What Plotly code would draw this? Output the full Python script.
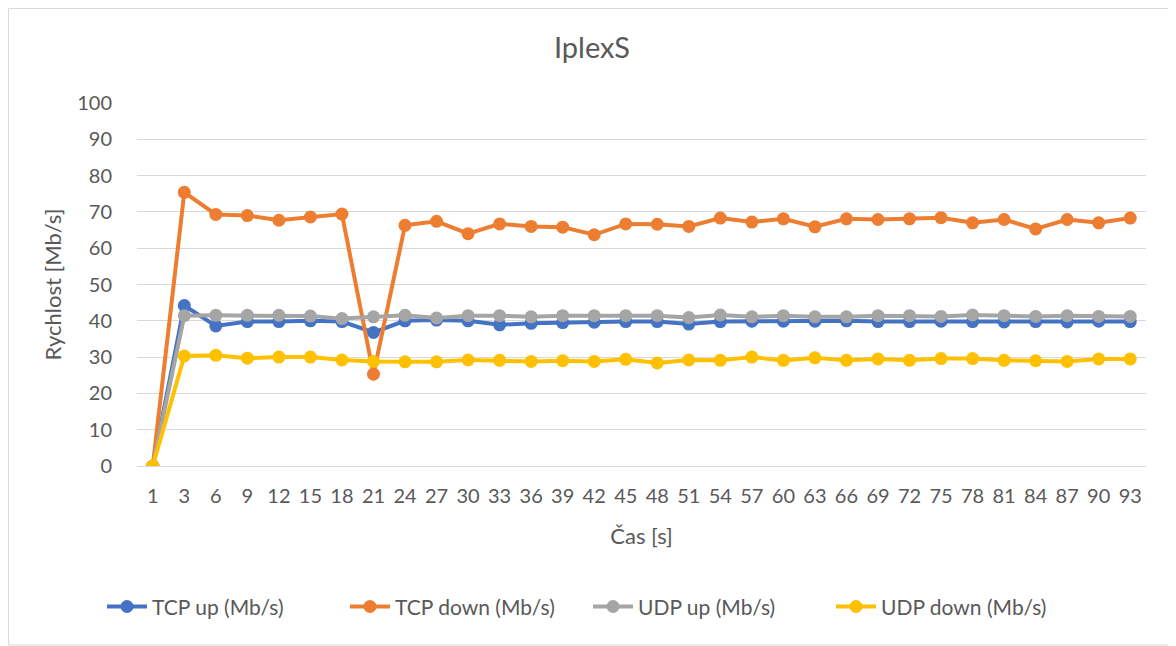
import plotly.graph_objects as go

categories = ["1", "3", "6", "9", "12", "15", "18", "21", "24", "27", "30", "33", "36", "39", "42", "45",
              "48", "51", "54", "57", "60", "63", "66", "69", "72", "75", "78", "81", "84", "87", "90", "93"]

tcp_up = [0, 44.2, 38.6, 39.8, 39.8, 40.0, 39.8, 36.8, 40.0, 40.2, 40.0,
          38.9, 39.3, 39.5, 39.6, 39.8, 39.8, 39.1, 39.8, 39.9, 39.9, 39.9,
          40.0, 39.8, 39.8, 39.9, 39.8, 39.7, 39.8, 39.7, 39.9, 39.8]
tcp_down = [0, 75.4, 69.3, 69.0, 67.7, 68.6, 69.4, 25.3, 66.3, 67.4, 64.0,
            66.7, 66.0, 65.8, 63.7, 66.7, 66.6, 66.0, 68.3, 67.2, 68.1, 65.9,
            68.1, 67.9, 68.1, 68.4, 67.0, 67.9, 65.3, 67.9, 67.0, 68.3]
udp_up = [0, 41.4, 41.5, 41.5, 41.5, 41.3, 40.6, 41.1, 41.5, 40.8, 41.4,
          41.4, 41.1, 41.4, 41.4, 41.4, 41.4, 40.9, 41.6, 41.1, 41.4, 41.1,
          41.1, 41.4, 41.4, 41.2, 41.6, 41.4, 41.2, 41.4, 41.2, 41.2]
udp_down = [0, 30.3, 30.5, 29.7, 30.0, 30.0, 29.2, 28.8, 28.7, 28.7, 29.2,
            29.1, 28.8, 29.0, 28.8, 29.4, 28.4, 29.2, 29.1, 30.0, 29.1, 29.8,
            29.1, 29.5, 29.1, 29.6, 29.6, 29.1, 29.0, 28.8, 29.5, 29.5]

series = [
    ("TCP up (Mb/s)", tcp_up, "#4472C4"),
    ("TCP down (Mb/s)", tcp_down, "#ED7D31"),
    ("UDP up (Mb/s)", udp_up, "#A5A5A5"),
    ("UDP down (Mb/s)", udp_down, "#FFC000"),
]

FONT = "Lato, 'Open Sans', sans-serif"
TXT = "#595959"

fig = go.Figure()
for name, vals, color in series:
    fig.add_trace(go.Scatter(
        x=categories, y=vals, name=name, mode="lines+markers",
        line=dict(color=color, width=4),
        marker=dict(color=color, size=13),
    ))

fig.update_layout(
    width=1168, height=638,
    paper_bgcolor="white", plot_bgcolor="white",
    margin=dict(l=129, r=30, t=95, b=180),
    font=dict(family=FONT, size=20, color=TXT),
    title=dict(text="IplexS", x=0.5, xanchor="center", y=0.937, yanchor="middle",
               font=dict(family=FONT, size=29, color=TXT)),
    showlegend=True,
    legend=dict(orientation="h", x=0.447, xanchor="center", y=-0.388, yanchor="middle",
                font=dict(family=FONT, size=21, color=TXT), itemwidth=40,
                entrywidth=188, entrywidthmode="pixels", traceorder="normal"),
    xaxis=dict(
        type="category", range=[-0.5, len(categories) - 0.5],
        showgrid=False, showline=False, zeroline=False,
        ticks="outside", ticklen=12, tickcolor="rgba(0,0,0,0)",
        tickfont=dict(family=FONT, size=20, color=TXT),
        title=dict(text="Čas [s]", font=dict(family=FONT, size=22, color=TXT), standoff=22),
    ),
    yaxis=dict(
        range=[0, 100], dtick=10, showgrid=True, gridcolor="#D9D9D9", gridwidth=1,
        zeroline=True, zerolinecolor="#D9D9D9", zerolinewidth=1, showline=False,
        ticks="outside", ticklen=20, tickcolor="rgba(0,0,0,0)",
        tickfont=dict(family=FONT, size=20, color=TXT),
        title=dict(text="Rychlost [Mb/s]", font=dict(family=FONT, size=22, color=TXT), standoff=9),
    ),
    shapes=[dict(type="rect", xref="paper", yref="paper",
                 x0=-0.1274, x1=1.0287, y0=-0.4931, y1=1.2603,
                 line=dict(color="#D9D9D9", width=1), fillcolor="rgba(0,0,0,0)", layer="below")],
)

fig.write_html("out.html")
